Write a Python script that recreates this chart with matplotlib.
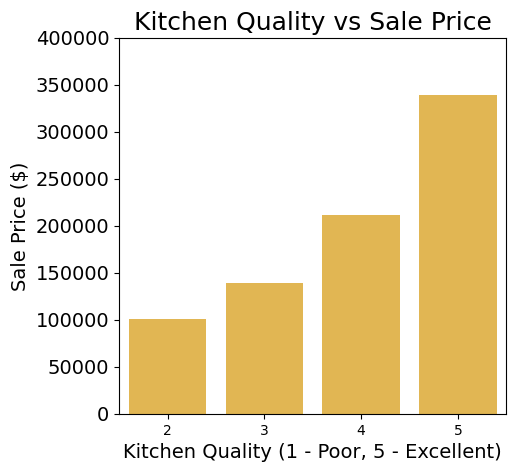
import matplotlib
matplotlib.use("Agg")
import matplotlib.pyplot as plt
import numpy as np

# kitchen quality levels and mean sale price
quality = ['2', '3', '4', '5']
price = [101000, 139400, 211700, 339400]

fig, ax = plt.subplots(figsize=(5.16, 4.73), dpi=100)
fig.subplots_adjust(left=0.231, right=0.981, top=0.92, bottom=0.125)

x = np.arange(len(quality))
ax.bar(x, price, width=0.8, color='#E1B653')
ax.set_xticks(x)
ax.set_xticklabels(quality, fontsize=10)
ax.set_xlim(-0.5, len(quality) - 0.5)
ax.set_ylim(0, 400000)
ax.set_yticks(np.arange(0, 400001, 50000))
ax.tick_params(axis='y', labelsize=14)

ax.set_title('Kitchen Quality vs Sale Price', fontsize=18)
ax.set_xlabel('Kitchen Quality (1 - Poor, 5 - Excellent)', fontsize=14)
ax.set_ylabel('Sale Price ($)', fontsize=14)

fig.savefig('out.png', dpi=100)
